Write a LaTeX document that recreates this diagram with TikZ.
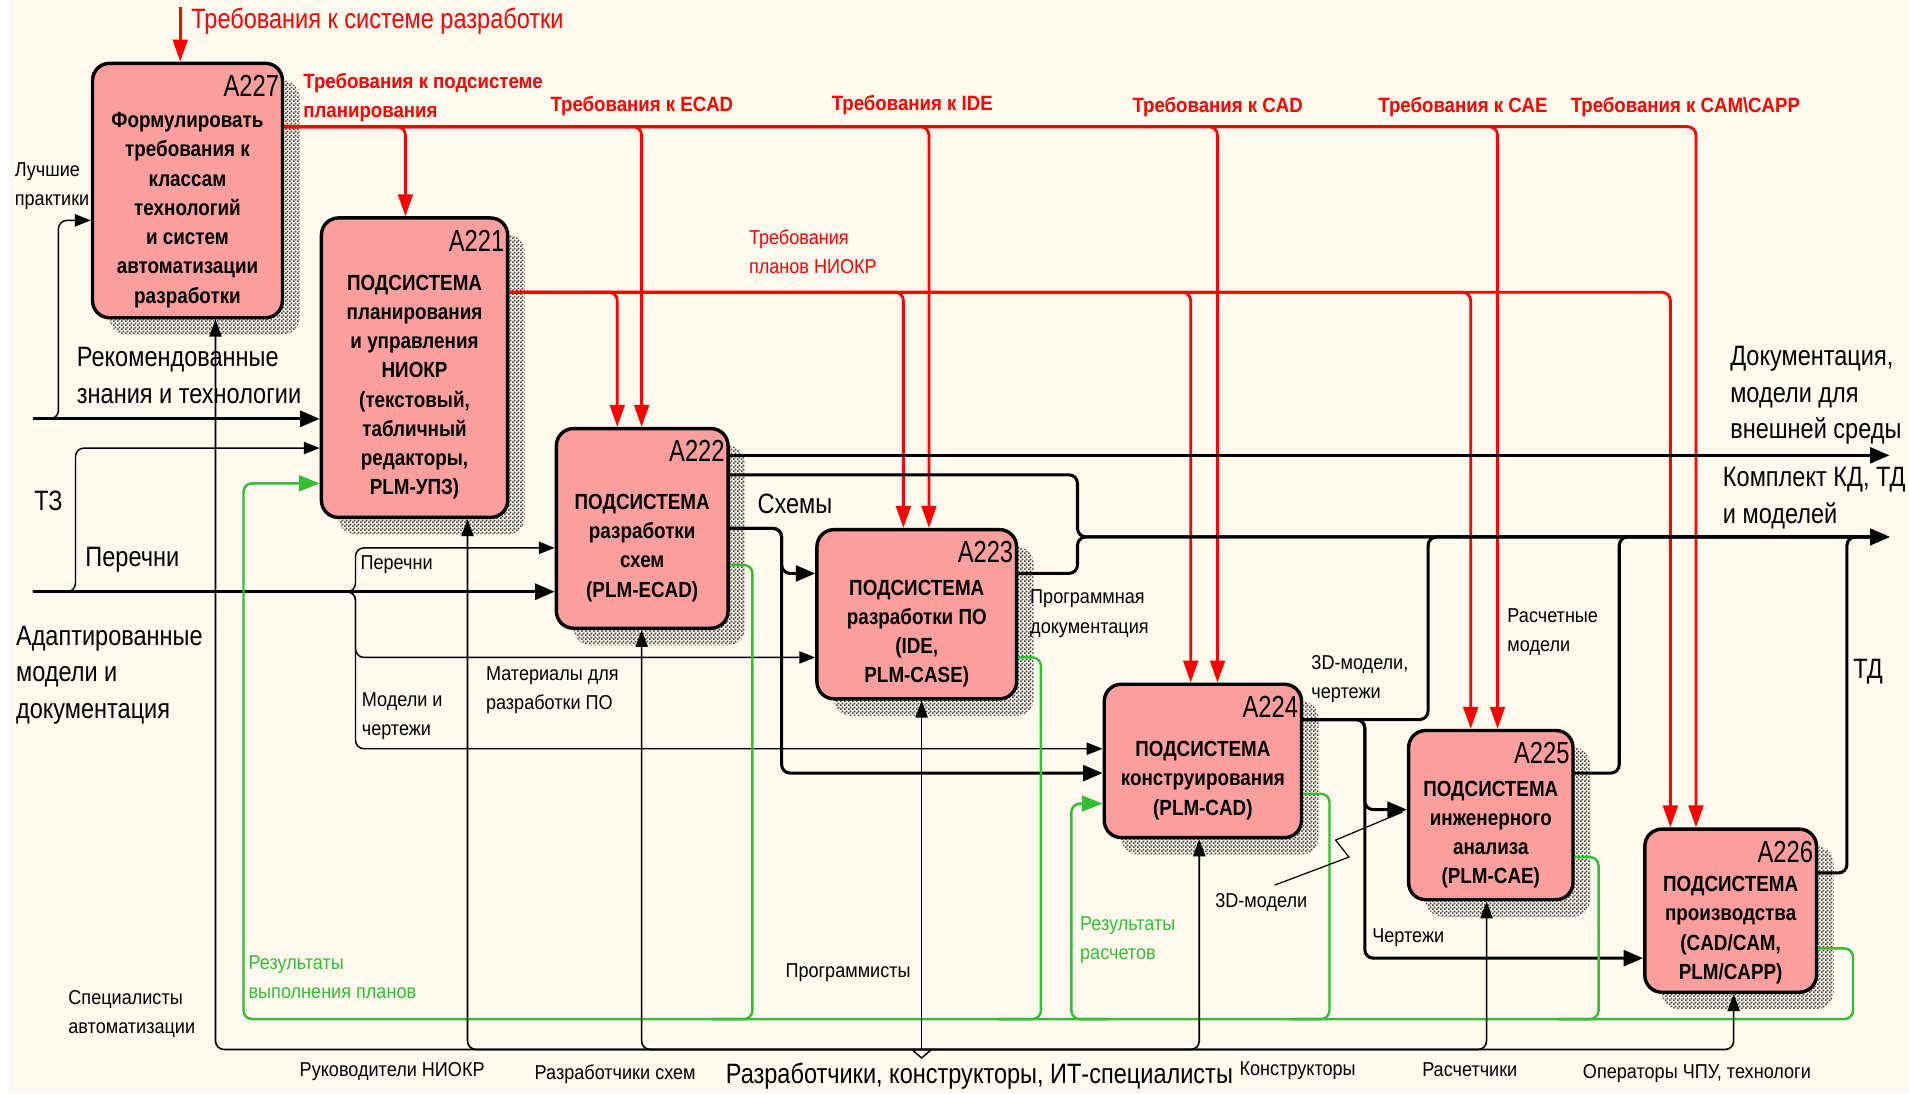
\documentclass[tikz,border=0pt]{standalone}
\usepackage{fontspec}
\setmainfont{Liberation Sans}
\newfontfamily\fA{Liberation Sans}[FakeStretch=0.84]
\newfontfamily\fS{Liberation Sans}[FakeStretch=0.90]
\newfontfamily\fbx{Liberation Sans}[FakeStretch=0.86]
\newfontfamily\frb{Liberation Sans}[FakeStretch=0.90]
\newfontfamily\fid{Liberation Sans}[FakeStretch=0.78]
\usetikzlibrary{arrows.meta,patterns,patterns.meta,shadows,calc}
\definecolor{cream}{HTML}{FFF9EE}
\definecolor{boxpink}{HTML}{FA9E9E}
\definecolor{fbgreen}{HTML}{33BE33}
\definecolor{ctrlred}{HTML}{FF0000}
\tikzdeclarepattern{
  name=checker,
  type=uncolored,
  bounding box={(0pt,0pt) and (3pt,3pt)},
  tile size={(3pt,3pt)},
  code={
    \fill (0pt,0pt) rectangle (1.5pt,1.5pt);
    \fill (1.5pt,1.5pt) rectangle (3pt,3pt);
  }
}
\tikzset{
 box/.style={draw, line width=2.8pt, fill=boxpink, rounded corners=14pt, inner sep=0pt,
   general shadow={shadow xshift=14pt, shadow yshift=-14pt, pattern=checker, pattern color=black!75}},
 boxtxt/.style={align=center, inner sep=0pt, font=\fbx\bfseries\fontsize{18}{24}\selectfont},
 boxid/.style={anchor=east, inner sep=0pt, font=\fid\fontsize{25}{25}\selectfont},
 lbl/.style={anchor=west, align=left, inner sep=0pt, font=\fS\fontsize{16.5}{24}\selectfont},
 big/.style={anchor=west, align=left, inner sep=0pt, font=\fA\fontsize{23}{30}\selectfont},
 redb/.style={anchor=west, align=left, inner sep=0pt, text=ctrlred, font=\frb\bfseries\fontsize{17}{24}\selectfont},
 ctrl/.style={ctrlred, line width=2.3pt, rounded corners=7pt, -{Triangle[length=18pt,width=12pt]}},
 flow/.style={black, line width=2.5pt, rounded corners=7pt, -{Triangle[length=16pt,width=13pt]}},
 flown/.style={black, line width=2.5pt, rounded corners=7pt},
 thin/.style={black, line width=1.2pt, rounded corners=7pt, -{Triangle[length=13pt,width=10pt]}},
 thinn/.style={black, line width=1.2pt, rounded corners=7pt},
 mecha/.style={black, line width=1.3pt, rounded corners=7pt, -{Triangle[length=14pt,width=10pt]}},
 fb/.style={fbgreen, line width=2pt, rounded corners=7pt, -{Triangle[length=17pt,width=13pt]}},
 fbn/.style={fbgreen, line width=2pt, rounded corners=7pt},
}
\begin{document}
\begin{tikzpicture}[x=1pt,y=-1pt]
\fill[white] (0,0) rectangle (1568,898);
\fill[cream] (7,0) rectangle (1568,898);
\useasboundingbox (0,0) rectangle (1568,898);

% ---------- boxes ----------
\node[box, minimum width=156pt, minimum height=209pt] (a227) at (154,156.5) {};
\node[box, minimum width=153pt, minimum height=246pt] (a221) at (340.5,302) {};
\node[box, minimum width=141pt, minimum height=164pt] (a222) at (527.5,434) {};
\node[box, minimum width=164pt, minimum height=139pt] (a223) at (753,504.5) {};
\node[box, minimum width=162pt, minimum height=126pt] (a224) at (988,625) {};
\node[box, minimum width=135pt, minimum height=139pt] (a225) at (1224.5,669.5) {};
\node[box, minimum width=141pt, minimum height=134pt] (a226) at (1421.5,748) {};

\node[boxtxt] (a227t) at ([yshift=-16pt]a227.center) {Формулировать\\требования к\\классам\\технологий\\и систем\\автоматизации\\разработки};
\node[boxtxt] (a221t) at ([yshift=-16pt]a221.center) {ПОДСИСТЕМА\\планирования\\и управления\\НИОКР\\(текстовый,\\табличный\\редакторы,\\PLM-УПЗ)};
\node[boxtxt] (a222t) at ([yshift=-16pt]a222.center) {ПОДСИСТЕМА\\разработки\\схем\\(PLM-ECAD)};
\node[boxtxt] (a223t) at ([yshift=-16pt]a223.center) {ПОДСИСТЕМА\\разработки ПО\\(IDE,\\PLM-CASE)};
\node[boxtxt] (a224t) at ([yshift=-16pt]a224.center) {ПОДСИСТЕМА\\конструирования\\(PLM-CAD)};
\node[boxtxt] (a225t) at ([yshift=-16pt]a225.center) {ПОДСИСТЕМА\\инженерного\\анализа\\(PLM-CAE)};
\node[boxtxt] (a226t) at ([yshift=-16pt]a226.center) {ПОДСИСТЕМА\\производства\\(CAD/CAM,\\PLM/CAPP)};

\node[boxid] (a227id) at ([xshift=-4pt,yshift=-20pt]a227.north east) {A227};
\node[boxid] (a221id) at ([xshift=-4pt,yshift=-20pt]a221.north east) {A221};
\node[boxid] (a222id) at ([xshift=-4pt,yshift=-20pt]a222.north east) {A222};
\node[boxid] (a223id) at ([xshift=-4pt,yshift=-20pt]a223.north east) {A223};
\node[boxid] (a224id) at ([xshift=-4pt,yshift=-20pt]a224.north east) {A224};
\node[boxid] (a225id) at ([xshift=-4pt,yshift=-20pt]a225.north east) {A225};
\node[boxid] (a226id) at ([xshift=-4pt,yshift=-20pt]a226.north east) {A226};

% ---------- free ends ----------
\coordinate (top) at (148,6);
\coordinate (rin) at (27,344);
\coordinate (ain) at (27,486);
\coordinate (docout) at (1552,374);
\coordinate (kout) at (1552,441);
\coordinate (mech) at (757,862);
\coordinate (g224) at (910,837);

% ---------- controls (red) ----------
\draw[ctrl] (top) -- (a227.north -| top);
\draw[ctrl] (a227.east |- 0,104) -| (a221.north -| 333,0);
\draw[ctrl] (a227.east |- 0,104) -| (a222.north -| 527,0);
\draw[ctrl] (a227.east |- 0,104) -| (a223.north -| 763,0);
\draw[ctrl] (a227.east |- 0,104) -| (a224.north -| 1000,0);
\draw[ctrl] (a227.east |- 0,104) -| (a225.north -| 1230,0);
\draw[ctrl] (a227.east |- 0,104) -| (a226.north -| 1393,0);
\draw[ctrl] (a221.east |- 0,240) -| (a222.north -| 507,0);
\draw[ctrl] (a221.east |- 0,240) -| (a223.north -| 742,0);
\draw[ctrl] (a221.east |- 0,240) -| (a224.north -| 978,0);
\draw[ctrl] (a221.east |- 0,240) -| (a225.north -| 1208,0);
\draw[ctrl] (a221.east |- 0,240) -| (a226.north -| 1372,0);

% ---------- inputs ----------
\draw[thin] (rin) -| (48,181) -- (a227.west |- 0,181);
\draw[flow] (rin) -- (a221.west |- rin);
\draw[thin] (ain) -| (62,368) -- (a221.west |- 0,368);
\draw[flow] (ain) -- (a222.west |- ain);
\draw[thin] (ain) -| (292,450) -- (a222.west |- 0,450);
\draw[thin] (ain) -| (292,540) -- (a223.west |- 0,540);
\draw[thin] (ain) -| (292,615) -- (a224.west |- 0,615);
\draw[flow] (a222.east |- 0,434) -| (642,471) -- (a223.west |- 0,471);
\draw[flow] (a222.east |- 0,434) -| (642,635) -- (a224.west |- 0,635);

% ---------- outputs ----------
\draw[flow] (a222.east |- 0,374) -- (docout);
\draw[flow] (a222.east |- 0,390) -| (885,441) -- (kout);
\draw[flow] (a223.east |- 0,471) -| (885,441) -- (kout);
\draw[flow] (a224.east |- 0,591) -| (1173,441) -- (kout);
\draw[flow] (a225.east |- 0,635) -| (1330,441) -- (kout);
\draw[flow] (a226.east |- 0,717) -| (1517,441) -- (kout);
\draw[flow] (a224.east |- 0,591) -| (1121,665) -- (a225.west |- 0,665);
\draw[flow] (a224.east |- 0,591) -| (1121,787) -- (a226.west |- 0,787);

% ---------- feedback (green) ----------
\draw[fb] (a226.east |- 0,779) -| (1522,837) -- (200,837) |- (a221.west |- 0,397);
\draw[fbn] (a225.east |- 0,704) -| (1313,837) -- (1280,837);
\draw[fbn] (a224.east |- 0,652) -| (1092,837) -- (1060,837);
\draw[fbn] (a223.east |- 0,540) -| (855,837) -- (820,837);
\draw[fbn] (a222.east |- 0,464) -| (618,837) -- (585,837);
\draw[fb] (g224) -| (880,660) -- (a224.west |- 0,660);

% ---------- mechanisms ----------
\draw[mecha] (mech) -| (a227.south -| 177,0);
\draw[mecha] (mech) -| (a221.south -| 384,0);
\draw[mecha] (mech) -| (a222.south -| 527,0);
\draw[mecha] (mech) -- (a223.south -| mech);
\draw[mecha] (mech) -| (a224.south -| 985,0);
\draw[mecha] (mech) -| (a225.south -| 1221,0);
\draw[mecha] (mech) -| (a226.south -| 1424,0);
\draw[thinn, rounded corners=0pt] ([xshift=-8pt]mech) -- ([yshift=-7pt]mech) -- ([xshift=8pt]mech);

% ---------- labels ----------
\node[big, text=ctrlred] (lreq) at (157,17) {Требования к системе разработки};
\node[redb] (lrq1) at (249,80) {Требования к подсистеме\\планирования};
\node[redb] (lrq2) at (452,87) {Требования к ECAD};
\node[redb] (lrq3) at (683,86) {Требования к IDE};
\node[redb] (lrq4) at (930,88) {Требования к CAD};
\node[redb] (lrq5) at (1132,88) {Требования к CAE};
\node[redb] (lrq6) at (1290,88) {Требования к CAM\textbackslash CAPP};
\node[lbl, text=ctrlred] (lplan) at (615,207) {Требования\\планов НИОКР};

\node[lbl] (lbest) at (12,153) {Лучшие\\практики};
\node[big] (lrec) at (63,308.5) {Рекомендованные\\знания и технологии};
\node[big] (ltz) at (28,411) {ТЗ};
\node[big] (lper) at (70,460) {Перечни};
\node[big] (ladapt) at (13,554.5) {Адаптированные\\модели и\\документация};
\node[lbl] (lper2) at (296,464) {Перечни};
\node[lbl] (lmat) at (399,567) {Материалы для\\разработки ПО};
\node[lbl] (lmod) at (297,588.5) {Модели и\\чертежи};
\node[big] (lsch) at (622,414) {Схемы};
\node[lbl] (lprog) at (846,504) {Программная\\документация};
\node[lbl] (l3dc) at (1077,558) {3D-модели,\\чертежи};
\node[lbl] (lras) at (1238,519) {Расчетные\\модели};
\node[lbl] (l3d) at (998,741) {3D-модели};
\node[lbl] (lch) at (1127,770) {Чертежи};
\node[big] (ltd) at (1522,552) {ТД};
\node[big] (ldoc) at (1421,325) {Документация,\\модели для\\внешней среды};
\node[big] (lkompl) at (1415,409) {Комплект КД, ТД\\и моделей};
\node[lbl] (lprg) at (645,799) {Программисты};
\node[lbl] (lspec) at (56,833) {Специалисты\\автоматизации};
\node[lbl] (lruk) at (246,880) {Руководители НИОКР};
\node[lbl] (lrazs) at (439,882) {Разработчики схем};
\node[big] (lmain) at (596,884) {Разработчики, конструкторы, ИТ-специалисты};
\node[lbl] (lkon) at (1018,879) {Конструкторы};
\node[lbl] (lrasch) at (1168,879) {Расчетчики};
\node[lbl] (loper) at (1300,882) {Операторы ЧПУ, технологи};
\node[lbl, text=fbgreen] (lres1) at (204,802.5) {Результаты\\выполнения планов};
\node[lbl, text=fbgreen] (lres2) at (887,772) {Результаты\\расчетов};

\draw[thinn, rounded corners=0pt, line width=1pt] (1047,727) -- (1108,704) -- (1097,690) -- (1152,667);
\end{tikzpicture}
\end{document}
